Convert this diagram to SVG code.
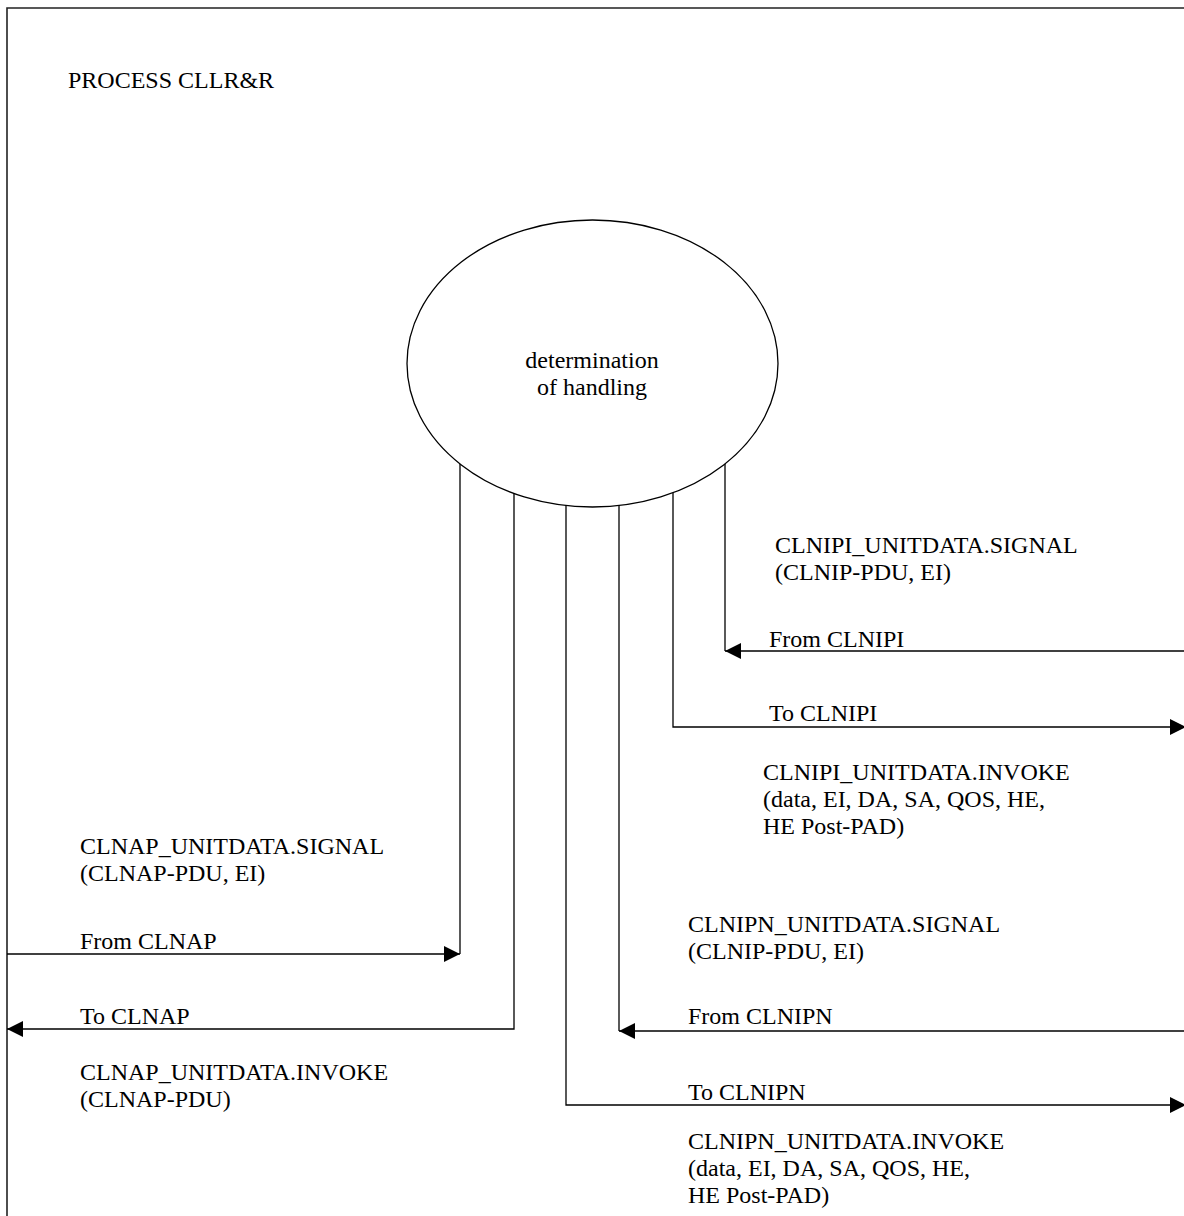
<svg xmlns="http://www.w3.org/2000/svg" width="1184" height="1216" viewBox="0 0 1184 1216">
<style>
text{font-family:"Liberation Serif","Times New Roman",serif;font-size:24px;fill:#000}
.ln{fill:none;stroke:#000;stroke-width:1.3}
.fr{fill:none;stroke:#222;stroke-width:1.6}
</style>
<defs>
<marker id="ah" viewBox="0 0 16 16" refX="16" refY="8" markerWidth="16" markerHeight="16" markerUnits="userSpaceOnUse" orient="auto">
<path d="M0,0 L16,8 L0,16 Z" fill="#000"/>
</marker>
</defs>
<rect width="1184" height="1216" fill="#fff"/>
<g id="frame">
<path class="fr" d="M7,1216 L7,8 L1184,8"/>
<text x="68" y="88">PROCESS CLLR&amp;R</text>
</g>
<g id="determination">
<ellipse cx="592.5" cy="363.5" rx="185.5" ry="143.5" fill="#fff" stroke="#000" stroke-width="1.3"/>
<text x="592" y="368" text-anchor="middle">determination</text>
<text x="592" y="395" text-anchor="middle">of handling</text>
</g>
<g id="connectors">
<path class="ln" d="M460,464 L460,954"/>
<path class="ln" d="M7,954 L460,954" marker-end="url(#ah)"/>
<path class="ln" d="M514,493 L514,1029 L7,1029" marker-end="url(#ah)"/>
<path class="ln" d="M566,505 L566,1105 L1186,1105" marker-end="url(#ah)"/>
<path class="ln" d="M619,505 L619,1031"/>
<path class="ln" d="M1184,1031 L619,1031" marker-end="url(#ah)"/>
<path class="ln" d="M673,493 L673,727 L1186,727" marker-end="url(#ah)"/>
<path class="ln" d="M725,464 L725,651"/>
<path class="ln" d="M1184,651 L725,651" marker-end="url(#ah)"/>
</g>
<g id="labels">
<text x="775" y="553">CLNIPI_UNITDATA.SIGNAL</text>
<text x="775" y="580">(CLNIP-PDU, EI)</text>
<text x="769" y="647">From CLNIPI</text>
<text x="769" y="721">To CLNIPI</text>
<text x="763" y="780">CLNIPI_UNITDATA.INVOKE</text>
<text x="763" y="807">(data, EI, DA, SA, QOS, HE,</text>
<text x="763" y="834">HE Post-PAD)</text>
<text x="80" y="854">CLNAP_UNITDATA.SIGNAL</text>
<text x="80" y="881">(CLNAP-PDU, EI)</text>
<text x="80" y="949">From CLNAP</text>
<text x="80" y="1024">To CLNAP</text>
<text x="80" y="1080">CLNAP_UNITDATA.INVOKE</text>
<text x="80" y="1107">(CLNAP-PDU)</text>
<text x="688" y="932">CLNIPN_UNITDATA.SIGNAL</text>
<text x="688" y="959">(CLNIP-PDU, EI)</text>
<text x="688" y="1024">From CLNIPN</text>
<text x="688" y="1100">To CLNIPN</text>
<text x="688" y="1149">CLNIPN_UNITDATA.INVOKE</text>
<text x="688" y="1176">(data, EI, DA, SA, QOS, HE,</text>
<text x="688" y="1203">HE Post-PAD)</text>
</g>
</svg>
